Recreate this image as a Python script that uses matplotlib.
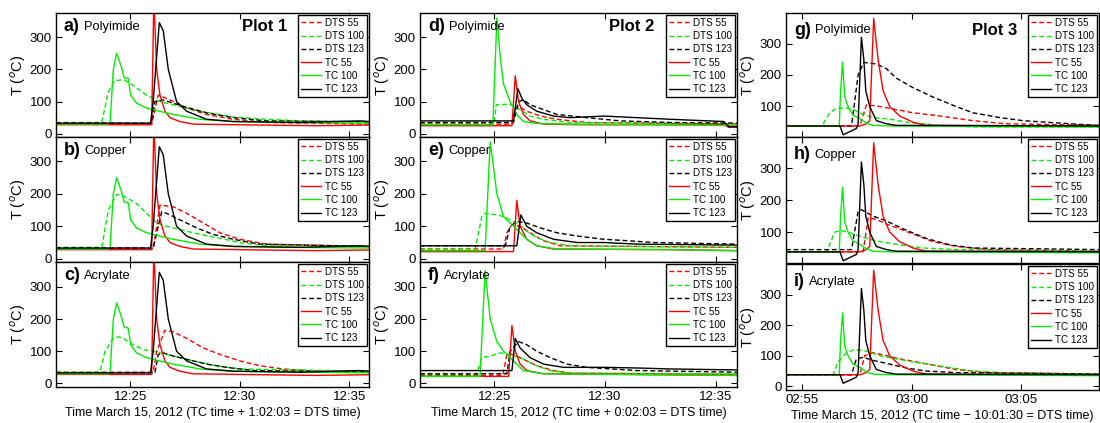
"""DTS vs thermocouple temperatures for three burn plots, three cable types each."""

import matplotlib.pyplot as plt
from matplotlib.ticker import FuncFormatter

# ---- data: times in minutes past the hour shown on the axis, temps in deg C ----
# Plot 1 thermocouples (same in a, b, c)
p1_tc55_t = [21.6, 25.97, 26.04, 26.07, 26.2, 26.35, 26.58, 26.81, 27.26, 27.87, 31.0, 33.5, 35.9]
p1_tc55_T = [28, 28, 300, 420, 200, 120, 70, 50, 38, 30, 27, 25, 27]
p1_tc100_t = [21.6, 23.99, 24.07, 24.22, 24.37, 24.6, 24.71, 24.9, 25.01, 25.28, 25.74, 26.2,
              26.96, 28.18, 29.7, 32.74, 35.9]
p1_tc100_T = [30, 30, 35, 200, 250, 205, 175, 172, 120, 95, 80, 72, 60, 45, 38, 35, 33]
p1_tc123_t = [21.6, 25.92, 26.04, 26.32, 26.5, 26.73, 27.11, 27.57, 28.48, 29.7, 32.74, 35.48, 35.9]
p1_tc123_T = [33, 33, 100, 345, 320, 200, 100, 70, 45, 38, 35, 40, 38]

# a) polyimide
a_dts55_t = [21.6, 25.97, 26.27, 26.65, 26.96, 27.57, 28.48, 29.7, 31.22, 35.9]
a_dts55_T = [30, 30, 120, 110, 100, 80, 60, 45, 35, 30]
a_dts100_t = [21.6, 23.69, 23.99, 24.29, 24.71, 25.13, 25.74, 26.35, 26.96, 28.18, 29.7, 31.22, 32.74, 35.9]
a_dts100_T = [35, 35, 130, 165, 168, 150, 120, 100, 90, 70, 52, 45, 40, 38]
a_dts123_t = [21.6, 25.97, 26.12, 26.5, 26.96, 27.42, 28.48, 29.7, 31.22, 35.9]
a_dts123_T = [33, 33, 100, 105, 95, 85, 65, 50, 40, 37]
# b) copper
b_dts55_t = [21.6, 26.04, 26.35, 26.96, 27.57, 28.33, 29.09, 30.0, 31.22, 35.9]
b_dts55_T = [30, 30, 165, 160, 140, 110, 80, 60, 45, 38]
b_dts100_t = [21.6, 23.69, 23.99, 24.37, 24.6, 24.9, 25.28, 25.74, 26.2, 26.65, 27.26, 28.18,
              28.94, 30.0, 31.22, 35.9]
b_dts100_T = [35, 35, 150, 198, 196, 185, 170, 140, 110, 100, 90, 75, 65, 50, 40, 37]
b_dts123_t = [21.6, 26.04, 26.43, 26.65, 27.26, 28.03, 28.78, 29.7, 30.91, 35.9]
b_dts123_T = [33, 33, 145, 140, 120, 95, 75, 60, 45, 38]
# c) acrylate
c_dts55_t = [21.6, 26.04, 26.2, 26.58, 26.96, 27.57, 28.33, 29.09, 30.0, 30.91, 31.98, 33.5, 35.9]
c_dts55_T = [35, 35, 100, 165, 160, 140, 110, 90, 70, 55, 45, 38, 36]
c_dts100_t = [21.6, 23.61, 23.84, 24.22, 24.44, 24.67, 25.13, 25.59, 26.04, 26.96, 27.87, 28.94, 30.0, 35.9]
c_dts100_T = [35, 35, 100, 140, 145, 140, 120, 105, 100, 85, 70, 55, 45, 38]
c_dts123_t = [21.6, 26.12, 26.27, 26.5, 26.96, 27.57, 28.48, 29.39, 30.61, 35.9]
c_dts123_T = [33, 33, 90, 95, 85, 75, 60, 50, 40, 35]

# Plot 2 (thermocouples differ a little per panel)
d_tc55_t = [21.65, 25.8, 25.95, 26.1, 26.32, 26.62, 27.23, 29.19, 35.36, 35.59, 35.96]
d_tc55_T = [25, 25, 180, 100, 60, 40, 30, 28, 28, 20, 20]
d_tc100_t = [21.65, 24.94, 25.12, 25.27, 25.42, 25.72, 26.02, 26.32, 26.92, 28.44, 32.96, 35.96]
d_tc100_T = [28, 28, 360, 240, 155, 100, 60, 38, 32, 30, 28, 25]
d_tc123_t = [21.65, 25.87, 26.07, 26.25, 26.47, 26.92, 27.68, 28.44, 29.95, 31.45, 32.96, 35.36, 35.59, 35.96]
d_tc123_T = [40, 40, 140, 110, 90, 70, 55, 50, 55, 50, 45, 38, 22, 22]
d_dts55_t = [21.65, 25.8, 25.95, 26.1, 26.47, 27.08, 27.83, 29.19, 35.96]
d_dts55_T = [30, 30, 80, 85, 70, 55, 45, 35, 30]
d_dts100_t = [21.65, 25.0, 25.09, 25.72, 25.87, 26.17, 26.62, 27.23, 28.44, 35.96]
d_dts100_T = [30, 30, 90, 92, 85, 75, 55, 45, 35, 30]
d_dts123_t = [21.65, 25.87, 26.1, 26.32, 26.62, 27.23, 27.83, 29.19, 30.7, 32.96, 35.96]
d_dts123_T = [35, 35, 100, 105, 90, 75, 60, 50, 40, 35, 33]

e_tc55_t = [21.65, 25.87, 26.02, 26.17, 26.47, 26.92, 27.68, 32.96, 35.96]
e_tc55_T = [22, 22, 180, 100, 60, 40, 30, 28, 25]
e_tc100_t = [21.65, 24.59, 24.82, 25.12, 25.42, 26.02, 26.47, 26.92, 27.83, 32.96, 35.96]
e_tc100_T = [25, 25, 360, 200, 130, 90, 60, 40, 30, 28, 25]
e_tc123_t = [21.65, 26.02, 26.2, 26.47, 26.92, 27.68, 28.74, 29.95, 31.45, 35.96]
e_tc123_T = [40, 40, 135, 100, 80, 60, 50, 50, 45, 42]
e_dts55_t = [21.65, 25.42, 25.57, 25.8, 26.17, 26.62, 27.23, 27.98, 35.96]
e_dts55_T = [30, 30, 80, 105, 100, 80, 55, 40, 35]
e_dts100_t = [21.65, 24.14, 24.44, 24.59, 25.12, 25.42, 26.02, 26.47, 26.92, 27.53, 28.44, 35.96]
e_dts100_T = [30, 30, 130, 140, 135, 130, 110, 85, 65, 50, 40, 35]
e_dts123_t = [21.65, 25.5, 25.72, 26.02, 26.47, 27.08, 27.83, 28.74, 29.95, 31.15, 32.2, 35.96]
e_dts123_T = [40, 40, 100, 115, 110, 95, 80, 70, 60, 55, 50, 45]

f_tc55_t = [21.65, 25.65, 25.8, 25.95, 26.17, 26.47, 27.23, 35.96]
f_tc55_T = [22, 22, 180, 100, 60, 40, 30, 25]
f_tc100_t = [21.65, 24.36, 24.59, 24.82, 25.12, 25.42, 25.87, 26.32, 27.23, 35.96]
f_tc100_T = [22, 22, 350, 200, 130, 100, 70, 40, 30, 25]
f_tc123_t = [21.65, 25.8, 25.95, 26.17, 26.62, 27.23, 28.13, 29.95, 31.45, 32.96, 35.96]
f_tc123_T = [40, 40, 140, 110, 80, 60, 50, 50, 48, 45, 42]
f_dts55_t = [21.65, 25.39, 25.57, 25.87, 26.32, 26.92, 27.68, 28.44, 35.96]
f_dts55_T = [25, 25, 90, 90, 75, 55, 40, 32, 28]
f_dts100_t = [21.65, 24.21, 24.44, 24.82, 25.27, 25.72, 26.17, 26.47, 26.92, 27.53, 28.44, 35.96]
f_dts100_T = [28, 28, 80, 85, 95, 90, 80, 70, 55, 40, 32, 30]
f_dts123_t = [21.65, 25.57, 25.72, 26.1, 26.47, 26.92, 27.53, 28.29, 29.19, 31.45, 35.96]
f_dts123_T = [30, 30, 100, 130, 120, 100, 80, 60, 50, 40, 35]

# Plot 3 thermocouples (minutes past 02:00)
p3_tc55_t = [54.27, 57.64, 57.94, 58.09, 58.27, 58.47, 58.7, 59.0, 59.45, 60.06, 60.67, 68.55]
p3_tc55_T = [38, 38, 45, 55, 380, 250, 150, 100, 70, 50, 40, 38]
p3_tc100_t = [54.27, 56.7, 56.76, 56.85, 56.95, 57.1, 57.33, 57.64, 57.94, 58.24, 59.0, 68.55]
p3_tc100_T = [38, 38, 150, 240, 130, 100, 72, 62, 47, 40, 38, 35]
p3_tc123_t = [54.27, 56.73, 56.88, 57.18, 57.48, 57.56, 57.71, 57.82, 57.91, 58.09, 58.39, 58.85,
              59.3, 68.55]
p3_tc123_T = [38, 38, 10, 20, 30, 45, 320, 250, 150, 100, 55, 45, 40, 38]

g_dts55_t = [54.27, 57.64, 57.94, 58.55, 59.3, 60.06, 61.27, 62.79, 64.3, 68.55]
g_dts55_T = [38, 38, 105, 100, 90, 80, 70, 55, 45, 40]
g_dts100_t = [54.27, 55.9, 56.27, 56.58, 57.03, 57.41, 57.79, 58.24, 59.0, 59.76, 61.27, 62.79, 68.55]
g_dts100_T = [38, 38, 80, 95, 95, 88, 75, 65, 60, 50, 40, 35, 35]
g_dts123_t = [54.27, 57.26, 57.56, 57.82, 58.39, 58.85, 59.3, 60.06, 60.97, 62.03, 62.79, 64.0,
              65.06, 66.58, 67.94, 68.55]
g_dts123_T = [38, 38, 200, 240, 235, 220, 190, 160, 130, 100, 80, 65, 55, 48, 42, 40]

h_dts55_t = [54.27, 57.79, 58.02, 58.39, 58.85, 59.45, 60.21, 60.97, 62.03, 63.55, 68.55]
h_dts55_T = [38, 38, 145, 140, 125, 110, 90, 70, 55, 45, 40]
h_dts100_t = [54.27, 56.12, 56.5, 56.8, 57.33, 57.94, 58.55, 59.45, 60.52, 62.03, 68.55]
h_dts100_T = [38, 38, 100, 105, 95, 80, 70, 60, 50, 45, 40]
h_dts123_t = [54.27, 57.26, 57.56, 57.71, 58.24, 58.85, 59.61, 60.67, 61.73, 62.79, 68.55]
h_dts123_T = [45, 45, 165, 170, 150, 135, 110, 80, 60, 50, 45]

i_dts55_t = [54.27, 57.64, 57.86, 58.24, 58.85, 59.45, 60.21, 61.27, 62.03, 63.55, 68.55]
i_dts55_T = [38, 38, 100, 110, 100, 90, 80, 65, 55, 45, 40]
i_dts100_t = [54.27, 56.42, 56.65, 57.03, 57.41, 57.94, 58.55, 59.3, 60.06, 60.97, 61.88, 62.79,
              64.0, 68.55]
i_dts100_T = [38, 38, 80, 110, 120, 115, 100, 90, 80, 70, 60, 50, 45, 40]
i_dts123_t = [54.27, 57.26, 57.48, 57.79, 58.24, 58.85, 59.76, 60.67, 62.03, 68.55]
i_dts123_T = [38, 38, 90, 95, 85, 75, 60, 50, 45, 40]

SERIES_LABELS = ["DTS 55", "DTS 100", "DTS 123", "TC 55", "TC 100", "TC 123"]
CABLES = ["Polyimide", "Copper", "Acrylate"]
PANEL_LETTERS = [["a)", "b)", "c)"], ["d)", "e)", "f)"], ["g)", "h)", "i)"]]
XLABELS = [
    "Time March 15, 2012 (TC time + 1:02:03 = DTS time)",
    "Time March 15, 2012 (TC time + 0:02:03 = DTS time)",
    "Time March 15, 2012 (TC time \u2212 10:01:30 = DTS time)",
]

p1_tc = [(p1_tc55_t, p1_tc55_T), (p1_tc100_t, p1_tc100_T), (p1_tc123_t, p1_tc123_T)]
p3_tc = [(p3_tc55_t, p3_tc55_T), (p3_tc100_t, p3_tc100_T), (p3_tc123_t, p3_tc123_T)]
panels = [
    [
        ([(a_dts55_t, a_dts55_T), (a_dts100_t, a_dts100_T), (a_dts123_t, a_dts123_T)], p1_tc),
        ([(b_dts55_t, b_dts55_T), (b_dts100_t, b_dts100_T), (b_dts123_t, b_dts123_T)], p1_tc),
        ([(c_dts55_t, c_dts55_T), (c_dts100_t, c_dts100_T), (c_dts123_t, c_dts123_T)], p1_tc),
    ],
    [
        ([(d_dts55_t, d_dts55_T), (d_dts100_t, d_dts100_T), (d_dts123_t, d_dts123_T)],
         [(d_tc55_t, d_tc55_T), (d_tc100_t, d_tc100_T), (d_tc123_t, d_tc123_T)]),
        ([(e_dts55_t, e_dts55_T), (e_dts100_t, e_dts100_T), (e_dts123_t, e_dts123_T)],
         [(e_tc55_t, e_tc55_T), (e_tc100_t, e_tc100_T), (e_tc123_t, e_tc123_T)]),
        ([(f_dts55_t, f_dts55_T), (f_dts100_t, f_dts100_T), (f_dts123_t, f_dts123_T)],
         [(f_tc55_t, f_tc55_T), (f_tc100_t, f_tc100_T), (f_tc123_t, f_tc123_T)]),
    ],
    [
        ([(g_dts55_t, g_dts55_T), (g_dts100_t, g_dts100_T), (g_dts123_t, g_dts123_T)], p3_tc),
        ([(h_dts55_t, h_dts55_T), (h_dts100_t, h_dts100_T), (h_dts123_t, h_dts123_T)], p3_tc),
        ([(i_dts55_t, i_dts55_T), (i_dts100_t, i_dts100_T), (i_dts123_t, i_dts123_T)], p3_tc),
    ],
]

COLORS = ["#ff0000", "#00ee00", "#000000"]
W, H = 1100, 423

# axes boxes in pixels (left, right) per column and (top, bottom) per row
COL_X = [(56, 369), (420, 737), (786, 1099)]
ROW_Y = [[(13, 137), (137, 262), (262, 387)],
         [(13, 137), (137, 262), (262, 387)],
         [(13, 137), (137, 263), (264, 390)]]
XLIMS = [(21.6, 35.9), (21.65, 35.96), (54.27, 68.55)]
XTICKS = [[25, 30, 35], [25, 30, 35], [55, 60, 65]]
BASE_HOUR = [12, 12, 2]
YLIMS = [[(-10, 375), (-10, 375), (-11, 377)],
         [(-10, 375), (-10, 375), (-11, 377)],
         [(3, 397), (3, 398), (-12, 400)]]

plt.rcParams["font.family"] = ["Liberation Sans", "DejaVu Sans"]
plt.rcParams["mathtext.fontset"] = "custom"
plt.rcParams["mathtext.rm"] = "Liberation Sans"

fig = plt.figure(figsize=(W / 100, H / 100), dpi=100, facecolor="white")


def hhmm(base):
    def fmt(m, _pos):
        total = int(round(m))
        return f"{base + total // 60:02d}:{total % 60:02d}"
    return fmt


for col in range(3):
    x0, x1 = COL_X[col]
    for row in range(3):
        y0, y1 = ROW_Y[col][row]
        ax = fig.add_axes([x0 / W, 1 - y1 / H, (x1 - x0) / W, (y1 - y0) / H])
        dts, tcs = panels[col][row]
        for k, (t, T) in enumerate(dts):
            ax.plot(t, T, color=COLORS[k], linestyle=(0, (3.5, 2)), linewidth=1.0,
                    label=SERIES_LABELS[k])
        for k, (t, T) in enumerate(tcs):
            ax.plot(t, T, color=COLORS[k], linestyle="-", linewidth=1.0,
                    label=SERIES_LABELS[k + 3])

        ax.set_xlim(*XLIMS[col])
        ax.set_ylim(*YLIMS[col][row])
        ax.set_xticks(XTICKS[col])
        ax.xaxis.set_major_formatter(FuncFormatter(hhmm(BASE_HOUR[col])))
        if col == 2 and row < 2:
            ax.set_yticks([100, 200, 300])
        else:
            ax.set_yticks([0, 100, 200, 300])
        ax.tick_params(direction="in", top=True, right=True, length=4, width=0.8,
                       labelsize=9.5, pad=3)
        if row < 2:
            ax.tick_params(labelbottom=False)
        else:
            ax.set_xlabel(XLABELS[col], fontsize=9, labelpad=3)
        for spine in ax.spines.values():
            spine.set_linewidth(1.0)

        ax.set_ylabel(r"T ($^{o}$C)", fontsize=10.5, labelpad=1)

        label_y = 0.86 if col == 2 else 0.89
        letter = ax.text(0.025, label_y, PANEL_LETTERS[col][row], transform=ax.transAxes,
                         fontsize=13, fontweight="bold", va="center", ha="left")
        ax.annotate(CABLES[row], xy=(1, 0.5), xycoords=letter, xytext=(3, 0),
                    textcoords="offset points", fontsize=9.3, va="center", ha="left")
        if row == 0:
            ax.text(0.74, label_y, f"Plot {col + 1}", transform=ax.transAxes, fontsize=12,
                    fontweight="bold", va="center", ha="right")

        leg = ax.legend(loc="upper right", fontsize=7.1, frameon=True, fancybox=False,
                        framealpha=1, edgecolor="black", borderaxespad=0.2, borderpad=0.3,
                        labelspacing=0.33, handlelength=2.0, handletextpad=0.4)
        leg.get_frame().set_linewidth(1.0)

fig.savefig("out.png", dpi=100, facecolor="white")
